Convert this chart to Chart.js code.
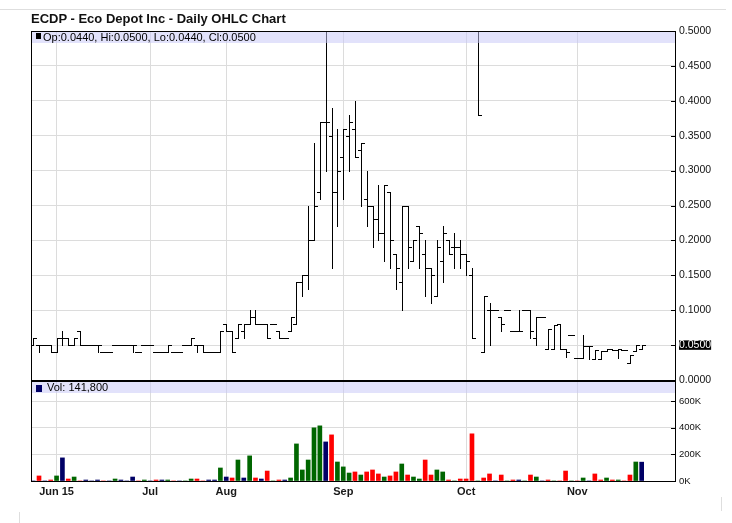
<!DOCTYPE html>
<html>
<head>
<meta charset="utf-8">
<title>ECDP - Eco Depot Inc - Daily OHLC Chart</title>
<script src="https://cdn.jsdelivr.net/npm/chart.js@4"></script>
<style>
    html, body { margin: 0; padding: 0; background: #fff; }
    #wrap { position: relative; width: 732px; height: 523px; overflow: hidden; }
    #title { position: absolute; left: 31px; top: 11px; font: bold 13px 'Liberation Sans', Arial, sans-serif; line-height: 15px; color: #111; white-space: nowrap; }
    .rule { position: absolute; background: #dedede; }
</style>
</head>
<body>
<div id="wrap">
    <div class="rule" style="left:0;top:9px;width:726px;height:1px"></div>
    <div class="rule" style="left:19px;top:512px;width:1px;height:11px"></div>
    <div class="rule" style="left:721px;top:497px;width:1px;height:14px"></div>
    <canvas id="ohlcChart"></canvas>
    <div id="title">ECDP - Eco Depot Inc - Daily OHLC Chart</div>
</div>

<script>
// daily bars, oldest first (one slot per trading day)
const opens = [
    0.05, 0.05, 0.05, 0.05, 0.04, 0.06, 0.06, 0.05, 0.07, 0.05,
    0.05, 0.05, 0.04, 0.04, 0.05, 0.05, 0.05, 0.05, 0.04, 0.05,
    0.05, 0.04, 0.04, 0.04, 0.04, 0.04, 0.05, 0.05, 0.05, 0.05,
    0.04, 0.04, 0.04, 0.08, 0.07, 0.06, 0.07, 0.08, 0.09, 0.08,
    0.08, 0.08, 0.07, 0.06, 0.07, 0.08, 0.14, 0.15, 0.20, 0.27,
    0.37, 0.35, 0.27, 0.32, 0.35, 0.36, 0.33, 0.26, 0.25, 0.23,
    0.21, 0.27, 0.18, 0.14, 0.25, 0.17, 0.22, 0.18, 0.16, 0.12,
    0.17, 0.20, 0.19, 0.19, 0.18, 0.15, 0.50, 0.04, 0.10, 0.10,
    0.09, 0.10, 0.07, 0.07, 0.10, 0.10, 0.06, 0.09, 0.045, 0.045,
    0.08, 0.045, 0.065, 0.031, 0.031, 0.048, 0.03, 0.03, 0.041, 0.044,
    0.043, 0.043, 0.024, 0.041, 0.044
];
const highs = [
    0.06, 0.05, 0.05, 0.05, 0.06, 0.07, 0.06, 0.06, 0.07, 0.05,
    0.05, 0.05, 0.04, 0.04, 0.05, 0.05, 0.05, 0.05, 0.04, 0.05,
    0.05, 0.04, 0.04, 0.05, 0.04, 0.04, 0.05, 0.06, 0.05, 0.05,
    0.04, 0.04, 0.07, 0.08, 0.07, 0.08, 0.08, 0.10, 0.10, 0.08,
    0.08, 0.08, 0.07, 0.06, 0.09, 0.14, 0.15, 0.25, 0.34, 0.37,
    0.50, 0.39, 0.36, 0.36, 0.38, 0.40, 0.34, 0.30, 0.25, 0.28,
    0.28, 0.27, 0.18, 0.25, 0.25, 0.20, 0.22, 0.20, 0.16, 0.20,
    0.22, 0.20, 0.21, 0.20, 0.18, 0.16, 0.50, 0.12, 0.11, 0.10,
    0.09, 0.10, 0.07, 0.10, 0.10, 0.10, 0.09, 0.09, 0.073, 0.079,
    0.08, 0.045, 0.065, 0.031, 0.064, 0.048, 0.043, 0.041, 0.044, 0.044,
    0.044, 0.043, 0.036, 0.05, 0.05
];
const lows = [
    0.05, 0.04, 0.05, 0.04, 0.04, 0.05, 0.05, 0.05, 0.05, 0.05,
    0.05, 0.04, 0.04, 0.04, 0.05, 0.05, 0.05, 0.04, 0.04, 0.05,
    0.05, 0.04, 0.04, 0.04, 0.04, 0.04, 0.05, 0.05, 0.04, 0.04,
    0.04, 0.04, 0.04, 0.07, 0.04, 0.06, 0.06, 0.08, 0.08, 0.08,
    0.06, 0.08, 0.06, 0.06, 0.07, 0.08, 0.12, 0.13, 0.20, 0.26,
    0.30, 0.16, 0.22, 0.26, 0.30, 0.32, 0.25, 0.22, 0.19, 0.20,
    0.17, 0.16, 0.13, 0.10, 0.16, 0.17, 0.16, 0.12, 0.11, 0.12,
    0.14, 0.18, 0.16, 0.16, 0.15, 0.06, 0.38, 0.04, 0.05, 0.10,
    0.07, 0.10, 0.07, 0.07, 0.10, 0.06, 0.05, 0.09, 0.045, 0.045,
    0.045, 0.033, 0.065, 0.031, 0.031, 0.03, 0.03, 0.03, 0.041, 0.043,
    0.031, 0.043, 0.024, 0.041, 0.044
];
const closes = [
    0.06, 0.05, 0.05, 0.04, 0.06, 0.06, 0.05, 0.06, 0.05, 0.05,
    0.05, 0.05, 0.04, 0.04, 0.05, 0.05, 0.05, 0.05, 0.04, 0.05,
    0.05, 0.04, 0.04, 0.05, 0.04, 0.04, 0.05, 0.06, 0.05, 0.04,
    0.04, 0.04, 0.07, 0.07, 0.04, 0.08, 0.08, 0.09, 0.08, 0.08,
    0.06, 0.08, 0.06, 0.06, 0.09, 0.14, 0.15, 0.20, 0.25, 0.37,
    0.37, 0.27, 0.30, 0.36, 0.37, 0.32, 0.34, 0.25, 0.23, 0.21,
    0.28, 0.20, 0.16, 0.25, 0.19, 0.20, 0.21, 0.16, 0.15, 0.19,
    0.21, 0.18, 0.19, 0.18, 0.17, 0.06, 0.38, 0.12, 0.10, 0.10,
    0.08, 0.10, 0.07, 0.07, 0.10, 0.07, 0.09, 0.09, 0.073, 0.079,
    0.045, 0.04, 0.065, 0.031, 0.048, 0.048, 0.043, 0.041, 0.044, 0.043,
    0.044, 0.043, 0.036, 0.05, 0.05
];
const volumes = [
    0, 38000, 0, 7500, 38000, 174000, 15000, 30000, 0, 7500,
    0, 7500, 0, 0, 15000, 7500, 0, 30000, 0, 7500,
    0, 7500, 7500, 7500, 0, 0, 0, 15000, 15000, 0,
    7500, 7500, 98000, 30000, 22600, 158000, 22600, 189000, 22600, 15000,
    75000, 0, 7500, 7500, 22600, 279000, 83000, 158000, 400000, 415000,
    294000, 347000, 143000, 106000, 60000, 68000, 45000, 68000, 83000, 53000,
    30000, 38000, 68000, 128000, 45000, 30000, 15000, 158000, 45000, 83000,
    68000, 7500, 0, 15000, 15000, 355000, 0, 22600, 53000, 0,
    45000, 0, 7500, 7500, 0, 45000, 30000, 0, 7500, 0,
    0, 75000, 0, 0, 22600, 0, 53000, 7500, 22600, 7500,
    7500, 0, 45000, 143000, 141800
];

// date axis: slot of the first session shown for each label
const tickSlots = [4, 20, 33, 53, 74, 93];
const tickLabels = ['Jun 15', 'Jul', 'Aug', 'Sep', 'Oct', 'Nov'];
const priceTicks = [0, 0.05, 0.1, 0.15, 0.2, 0.25, 0.3, 0.35, 0.4, 0.45, 0.5];
const volTicks = [0, 200000, 400000, 600000];

const FONT = "'Liberation Sans', Arial, Helvetica, sans-serif";
const last = closes.length - 1;
const lastClose = closes[last];

// volume colour follows the close against the previous close
const volColors = closes.map((c, i) => {
    if (i === 0 || c === closes[i - 1]) return '#000066';
    return c > closes[i - 1] ? '#006600' : '#ff0000';
});

// OHLC sticks, panel bands, frame and the two readouts
const ohlcPanels = {
    id: 'ohlcPanels',
    afterDatasetsDraw(chart) {
        const { ctx, chartArea: a, scales: { x, y, yv } } = chart;
        ctx.save();

        ctx.beginPath();
        ctx.rect(a.left, a.top, a.width, y.bottom - a.top);
        ctx.clip();
        ctx.strokeStyle = '#000';
        ctx.lineWidth = 1;
        ctx.beginPath();
        closes.forEach((c, i) => {
            const px = Math.round(x.getPixelForValue(i));
            const yh = Math.round(y.getPixelForValue(highs[i]));
            const yl = Math.round(y.getPixelForValue(lows[i]));
            const yo = Math.round(y.getPixelForValue(opens[i])) + 0.5;
            const yc = Math.round(y.getPixelForValue(c)) + 0.5;
            ctx.moveTo(px + 0.5, yh);
            ctx.lineTo(px + 0.5, yl + 1);
            ctx.moveTo(px - 3, yo);
            ctx.lineTo(px + 1, yo);
            ctx.moveTo(px, yc);
            ctx.lineTo(px + 4, yc);
        });
        ctx.stroke();
        ctx.restore();

        ctx.save();
        const band = 'rgba(200,200,248,0.52)';
        ctx.fillStyle = band;
        ctx.fillRect(a.left, a.top, a.width, 12);
        ctx.fillRect(a.left, Math.round(yv.top) + 1, a.width, 12);

        // frame and panel separator
        ctx.fillStyle = '#000';
        ctx.fillRect(a.left, a.top, 1, a.height);
        ctx.fillRect(a.left, a.top, a.width, 1);
        ctx.fillRect(a.left, Math.round(y.bottom), a.width, 2);
        [[y, priceTicks], [yv, volTicks]].forEach(([s, vals]) => {
            vals.forEach(v => ctx.fillRect(a.right - 4, Math.round(s.getPixelForValue(v)), 4, 1));
        });

        // readouts
        const fmt = v => v.toFixed(4);
        ctx.font = '11px ' + FONT;
        ctx.textBaseline = 'middle';
        ctx.fillStyle = '#000';
        ctx.fillRect(a.left + 5, a.top + 2, 5, 6);
        ctx.fillText(`Op:${fmt(opens[last])}, Hi:${fmt(highs[last])}, Lo:${fmt(lows[last])}, Cl:${fmt(lastClose)}`,
            a.left + 12, a.top + 6.5);
        const vt = Math.round(yv.top) + 1;
        ctx.fillStyle = '#000066';
        ctx.fillRect(a.left + 5, vt + 4, 6, 7);
        ctx.fillStyle = '#000';
        ctx.fillText(`Vol: ${volumes[last].toLocaleString('en-US')}`, a.left + 16, vt + 7);
        ctx.restore();
    }
};

new Chart(document.getElementById('ohlcChart'), {
    data: {
        datasets: [
            {
                type: 'bar',
                label: 'Volume',
                data: volumes.map((v, i) => ({ x: i, y: v })),
                xAxisID: 'x',
                yAxisID: 'yv',
                backgroundColor: volColors,
                barThickness: 4,
                grouped: false,
                borderWidth: 0
            },
            {
                type: 'line',
                label: 'Close',
                data: closes.map((c, i) => ({ x: i, y: c })),
                xAxisID: 'x',
                yAxisID: 'y',
                showLine: false,
                pointRadius: 0
            }
        ]
    },
    options: {
        responsive: true,
        maintainAspectRatio: false,
        animation: false,
        events: [],
        layout: { padding: { left: 31, top: 31, right: 0, bottom: 0 } },
        plugins: {
            legend: { display: false },
            title: { display: false },
            tooltip: { enabled: false }
        },
        scales: {
            x: {
                type: 'linear',
                position: 'bottom',
                offset: false,
                bounds: 'data',
                min: -0.37,
                max: 109.7,
                afterBuildTicks: s => { s.ticks = tickSlots.map(v => ({ value: v })); },
                afterFit: s => { s.height = 42; },
                grid: { color: '#dcdcdc', drawTicks: false, offset: false },
                border: { color: '#000' },
                ticks: {
                    autoSkip: false,
                    maxRotation: 0,
                    padding: 4,
                    color: '#1a1a1a',
                    font: { family: FONT, size: 11, weight: 'bold' },
                    callback: v => tickLabels[tickSlots.indexOf(v)]
                }
            },
            y: {
                type: 'linear',
                position: 'right',
                stack: 'panels',
                stackWeight: 349,
                min: 0,
                max: 0.5,
                afterBuildTicks: s => { s.ticks = priceTicks.map(v => ({ value: v })); },
                afterFit: s => { s.width = 57; },
                grid: { color: '#dcdcdc', drawTicks: false },
                border: { color: '#000' },
                ticks: {
                    padding: 4,
                    font: { family: FONT, size: 10.5, lineHeight: 0.9 },
                    color: ctx => ctx.tick.value === lastClose ? '#fff' : '#111',
                    showLabelBackdrop: ctx => ctx.tick.value === lastClose,
                    backdropColor: '#000',
                    backdropPadding: { top: 0, bottom: 0, left: 0, right: 0 },
                    callback: v => v.toFixed(4)
                }
            },
            yv: {
                type: 'linear',
                position: 'right',
                stack: 'panels',
                stackWeight: 101,
                min: 0,
                max: 760000,
                afterBuildTicks: s => { s.ticks = volTicks.map(v => ({ value: v })); },
                afterFit: s => { s.width = 57; },
                grid: { color: '#dcdcdc', drawTicks: false },
                border: { color: '#000' },
                ticks: {
                    padding: 4,
                    color: '#111',
                    font: { family: FONT, size: 9.5 },
                    callback: v => (v / 1000) + 'K'
                }
            }
        }
    },
    plugins: [ohlcPanels]
});
</script>
</body>
</html>
